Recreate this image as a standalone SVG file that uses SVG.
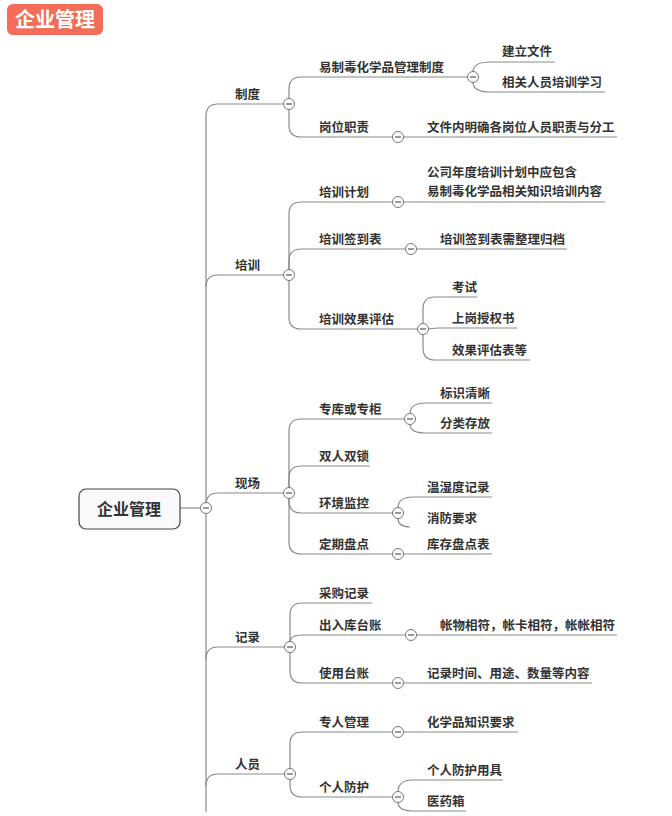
<svg xmlns="http://www.w3.org/2000/svg" width="672" height="816" viewBox="0 0 672 816">
<defs><style>
.t{font-family:"Noto Sans CJK SC","Liberation Sans",sans-serif;font-size:12.5px;font-weight:bold;fill:#333}
.l{fill:none;stroke:#8a8a8a;stroke-width:1.2}
</style>
<g id="m"><circle r="5.5" fill="#fff" stroke="#777" stroke-width="1"/><path d="M-3,0H3" stroke="#555" stroke-width="1.2"/></g></defs>
<rect width="672" height="816" fill="#fff"/>
<g id="title"><rect x="7" y="4" width="96" height="31" rx="6" fill="#f36d58"/><text x="55" y="27" text-anchor="middle" style="font-family:'Noto Sans CJK SC',sans-serif;font-size:20px;font-weight:bold;fill:#fff">企业管理</text></g>
<g id="connectors" class="l">
<path d="M180,508H200"/>
<path d="M206,812V116Q206,104 218,104H284"/>
<path d="M206,287Q206,275 218,275H284"/>
<path d="M206,505Q206,493 218,493H284"/>
<path d="M206,659Q206,647 218,647H285"/>
<path d="M206,786Q206,774 218,774H285"/>
<path d="M289,99V89Q289,77 301,77H468"/>
<path d="M289,109V125Q289,137 301,137H393"/>
<path d="M473,72Q473,62 490,62H555"/>
<path d="M473,82Q473,92 490,92H605"/>
<path d="M403,137H617"/>
<path d="M289,270V214Q289,202 301,202H393"/>
<path d="M289,270V261Q289,249 301,249H406"/>
<path d="M289,280V317Q289,329 301,329H418"/>
<path d="M403,202H605"/>
<path d="M416,249H567"/>
<path d="M423,324V309Q423,297 435,297H477"/>
<path d="M428,329Q435,328 440,328H517"/>
<path d="M423,334V348Q423,360 435,360H530"/>
<path d="M289,488V431Q289,419 301,419H405"/>
<path d="M289,488V478Q289,466 301,466H370"/>
<path d="M289,498V501Q289,513 301,513H393"/>
<path d="M289,498V542Q289,554 301,554H393"/>
<path d="M410,414Q410,403 425,403H492"/>
<path d="M410,424Q410,433 425,433H492"/>
<path d="M398,508Q398,497 413,497H492"/>
<path d="M398,518Q398,527 410,527"/>
<path d="M403,554H492"/>
<path d="M290,642V615Q290,603 302,603H372"/>
<path d="M290,642Q290,635 302,635H406"/>
<path d="M290,652V671Q290,683 302,683H393"/>
<path d="M416,635H617"/>
<path d="M403,683H592"/>
<path d="M290,769V744Q290,732 302,732H393"/>
<path d="M290,779V785Q290,797 302,797H393"/>
<path d="M403,732H518"/>
<path d="M398,792Q398,780 413,780H503"/>
<path d="M398,802Q398,811 413,811H466"/>
</g>
<g id="root"><rect x="79" y="489" width="101" height="40" rx="7" fill="#fafafa" stroke="#444" stroke-width="1.2"/><text x="129" y="515" text-anchor="middle" class="t" style="font-size:16px">企业管理</text></g>
<g id="toggles">
<use href="#m" x="206" y="508"/><use href="#m" x="289" y="104"/><use href="#m" x="289" y="275"/><use href="#m" x="289" y="493"/><use href="#m" x="290" y="647"/><use href="#m" x="290" y="774"/>
<use href="#m" x="473" y="77"/><use href="#m" x="398" y="137"/><use href="#m" x="398" y="202"/><use href="#m" x="411" y="249"/><use href="#m" x="423" y="329"/>
<use href="#m" x="410" y="419"/><use href="#m" x="398" y="513"/><use href="#m" x="398" y="554"/>
<use href="#m" x="411" y="635"/><use href="#m" x="398" y="683"/><use href="#m" x="398" y="732"/><use href="#m" x="398" y="797"/>
</g>
<g id="n1"><text class="t" x="235" y="99">制度</text></g>
<g id="n2"><text class="t" x="235" y="270">培训</text></g>
<g id="n3"><text class="t" x="235" y="488">现场</text></g>
<g id="n4"><text class="t" x="235" y="642">记录</text></g>
<g id="n5"><text class="t" x="235" y="769">人员</text></g>
<g id="n11"><text class="t" x="319" y="72">易制毒化学品管理制度</text></g>
<g id="n111"><text class="t" x="502" y="56">建立文件</text></g>
<g id="n112"><text class="t" x="502" y="87">相关人员培训学习</text></g>
<g id="n12"><text class="t" x="319" y="132">岗位职责</text></g>
<g id="n121"><text class="t" x="427" y="132">文件内明确各岗位人员职责与分工</text></g>
<g id="n21"><text class="t" x="319" y="197">培训计划</text></g>
<g id="n211"><text class="t" x="427" y="177">公司年度培训计划中应包含</text><text class="t" x="427" y="196">易制毒化学品相关知识培训内容</text></g>
<g id="n22"><text class="t" x="319" y="244">培训签到表</text></g>
<g id="n221"><text class="t" x="440" y="244">培训签到表需整理归档</text></g>
<g id="n23"><text class="t" x="319" y="324">培训效果评估</text></g>
<g id="n231"><text class="t" x="452" y="292">考试</text></g>
<g id="n232"><text class="t" x="452" y="323">上岗授权书</text></g>
<g id="n233"><text class="t" x="452" y="355">效果评估表等</text></g>
<g id="n31"><text class="t" x="319" y="414">专库或专柜</text></g>
<g id="n311"><text class="t" x="440" y="398">标识清晰</text></g>
<g id="n312"><text class="t" x="440" y="428">分类存放</text></g>
<g id="n32"><text class="t" x="319" y="461">双人双锁</text></g>
<g id="n33"><text class="t" x="319" y="508">环境监控</text></g>
<g id="n331"><text class="t" x="427" y="492">温湿度记录</text></g>
<g id="n332"><text class="t" x="427" y="523">消防要求</text></g>
<g id="n34"><text class="t" x="319" y="549">定期盘点</text></g>
<g id="n341"><text class="t" x="427" y="549">库存盘点表</text></g>
<g id="n41"><text class="t" x="319" y="598">采购记录</text></g>
<g id="n42"><text class="t" x="319" y="630">出入库台账</text></g>
<g id="n421"><text class="t" x="440" y="630">帐物相符，帐卡相符，帐帐相符</text></g>
<g id="n43"><text class="t" x="319" y="678">使用台账</text></g>
<g id="n431"><text class="t" x="427" y="678">记录时间、用途、数量等内容</text></g>
<g id="n51"><text class="t" x="319" y="727">专人管理</text></g>
<g id="n511"><text class="t" x="427" y="727">化学品知识要求</text></g>
<g id="n52"><text class="t" x="319" y="792">个人防护</text></g>
<g id="n521"><text class="t" x="427" y="775">个人防护用具</text></g>
<g id="n522"><text class="t" x="427" y="806">医药箱</text></g>
</svg>
